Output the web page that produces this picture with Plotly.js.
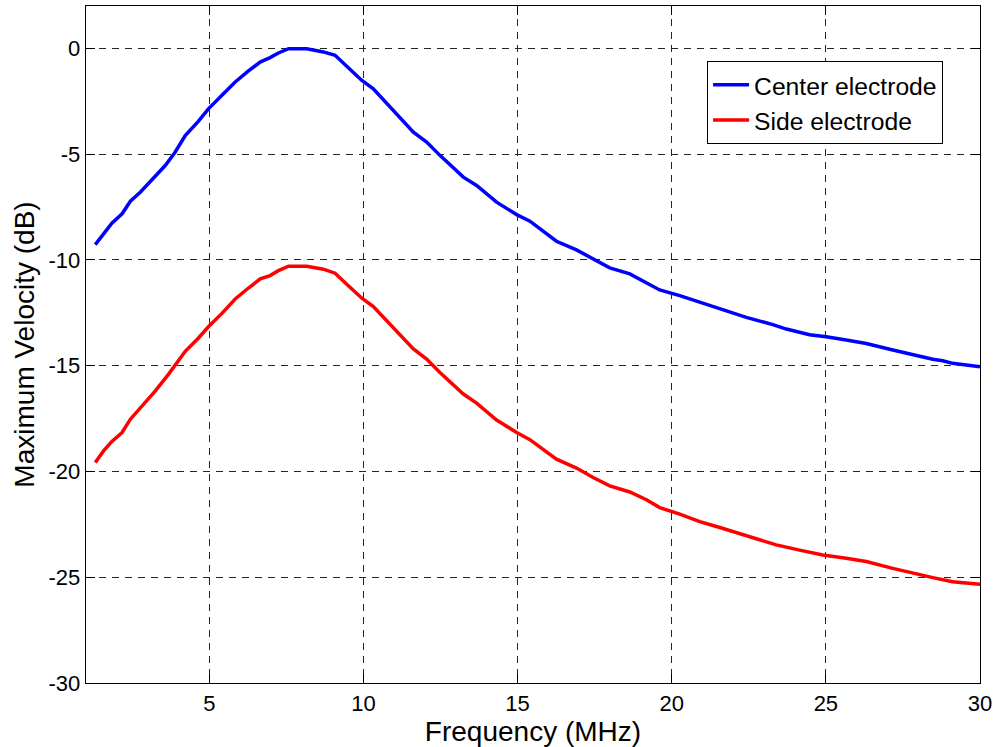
<!DOCTYPE html>
<html>
<head>
<meta charset="utf-8">
<script src="https://cdn.plot.ly/plotly-3.0.1.min.js"></script>
<style>
  html, body { margin: 0; padding: 0; background: #ffffff; }
  #chart { width: 998px; height: 747px; }
</style>
</head>
<body>
<div id="chart"></div>
<script>
// Center electrode (blue)
const centerFreq = [1.30, 1.57, 1.84, 2.17, 2.44, 2.76, 3.14, 3.57, 3.89, 4.22, 4.65, 4.97, 5.41, 5.84, 6.27, 6.65, 6.97, 7.24, 7.57, 8.16, 8.70, 9.08, 9.51, 9.94, 10.32, 10.97, 11.62, 12.05, 12.48, 13.24, 13.67, 14.32, 14.97, 15.40, 16.26, 16.91, 17.45, 17.99, 18.64, 19.18, 19.61, 20.26, 20.91, 21.34, 21.88, 22.42, 23.28, 23.72, 24.47, 25.01, 25.66, 26.31, 27.17, 27.82, 28.47, 28.79, 29.11, 30.00];
const centerDb = [-9.28, -8.74, -8.27, -7.82, -7.23, -6.80, -6.22, -5.54, -4.91, -4.12, -3.44, -2.86, -2.22, -1.59, -1.07, -0.65, -0.44, -0.22, -0.02, -0.02, -0.17, -0.33, -0.92, -1.51, -1.91, -2.93, -3.96, -4.43, -5.06, -6.09, -6.48, -7.27, -7.86, -8.17, -9.12, -9.53, -9.95, -10.38, -10.66, -11.06, -11.42, -11.69, -12.00, -12.24, -12.48, -12.72, -13.06, -13.27, -13.54, -13.63, -13.79, -13.95, -14.26, -14.50, -14.70, -14.77, -14.89, -15.05];

// Side electrode (red)
const sideFreq = [1.30, 1.57, 1.84, 2.17, 2.44, 2.81, 3.25, 3.68, 4.22, 4.65, 4.97, 5.41, 5.84, 6.27, 6.65, 6.97, 7.24, 7.57, 8.16, 8.70, 9.08, 9.51, 9.94, 10.32, 10.97, 11.62, 12.05, 12.48, 13.24, 13.67, 14.32, 14.97, 15.40, 16.26, 16.91, 17.45, 17.99, 18.64, 19.18, 19.61, 20.26, 20.91, 21.56, 22.42, 23.39, 24.15, 24.90, 25.66, 26.31, 27.17, 27.82, 28.47, 29.11, 30.00];
const sideDb = [-19.58, -19.03, -18.58, -18.16, -17.53, -16.94, -16.19, -15.40, -14.32, -13.69, -13.16, -12.53, -11.85, -11.33, -10.90, -10.74, -10.51, -10.30, -10.30, -10.44, -10.63, -11.22, -11.80, -12.21, -13.19, -14.21, -14.69, -15.32, -16.34, -16.77, -17.57, -18.16, -18.50, -19.42, -19.84, -20.29, -20.68, -20.97, -21.34, -21.71, -22.02, -22.37, -22.65, -23.05, -23.47, -23.72, -23.95, -24.10, -24.26, -24.58, -24.81, -25.02, -25.21, -25.33];

const xTicks = [5, 10, 15, 20, 25, 30];
const yTicks = [-30, -25, -20, -15, -10, -5, 0];
const seriesNames = ["Center electrode", "Side electrode"];

const FONT = '"Liberation Sans", Arial, Helvetica, sans-serif';

const traces = [
  { x: centerFreq, y: centerDb, name: seriesNames[0], type: 'scatter', mode: 'lines',
    line: { color: '#0000ff', width: 3.5 } },
  { x: sideFreq, y: sideDb, name: seriesNames[1], type: 'scatter', mode: 'lines',
    line: { color: '#ff0000', width: 3.5 } }
];

const axisCommon = {
  showline: true, linecolor: '#000000', linewidth: 1.3, mirror: 'allticks',
  ticks: 'inside', ticklen: 9, tickwidth: 1, tickcolor: '#000000',
  showgrid: true, gridcolor: '#262626', gridwidth: 1, griddash: '7px,6px',
  zeroline: false,
  tickfont: { family: FONT, size: 22, color: '#000000' }
};

const layout = {
  width: 998, height: 747, autosize: false,
  margin: { l: 86, r: 18, t: 6, b: 64 },
  paper_bgcolor: '#ffffff', plot_bgcolor: '#ffffff',
  font: { family: FONT, color: '#000000' },
  showlegend: true,
  legend: {
    x: 0.6947, y: 0.9183, xanchor: 'left', yanchor: 'top',
    bgcolor: '#ffffff', bordercolor: '#000000', borderwidth: 1,
    font: { family: FONT, size: 24.7, color: '#000000' },
    tracegroupgap: 0, itemwidth: 36
  },
  xaxis: Object.assign({}, axisCommon, {
    range: [1, 30], tickvals: xTicks, ticktext: xTicks.map(String),
    title: { text: 'Frequency (MHz)', font: { family: FONT, size: 28, color: '#000000' }, standoff: 2 }
  }),
  yaxis: Object.assign({}, axisCommon, {
    range: [-30, 2], tickvals: yTicks, ticktext: yTicks.map(String),
    title: { text: 'Maximum Velocity (dB)', font: { family: FONT, size: 28, color: '#000000' }, standoff: 5 }
  })
};

Plotly.newPlot('chart', traces, layout, { displayModeBar: false, staticPlot: true });
</script>
</body>
</html>
